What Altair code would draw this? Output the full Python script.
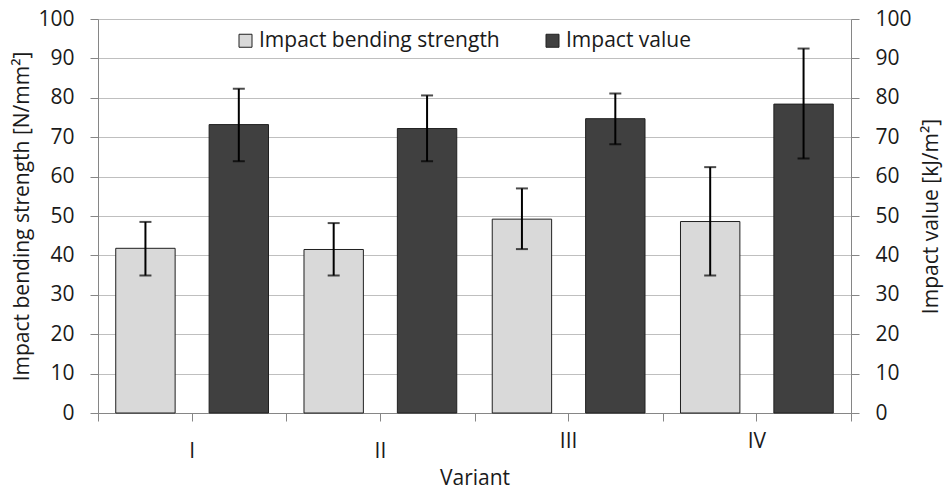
import altair as alt
import pandas as pd

variants = ["I", "II", "III", "IV"]
series = ["Impact bending strength", "Impact value"]
bending_mean = [41.8, 41.5, 49.2, 48.6]
bending_low = [34.9, 34.9, 41.6, 34.9]
bending_high = [48.5, 48.2, 57.0, 62.4]
impact_mean = [73.2, 72.2, 74.7, 78.4]
impact_low = [63.9, 63.9, 68.2, 64.6]
impact_high = [82.3, 80.6, 81.1, 92.5]
colors = ["#d9d9d9", "#404040"]

rows = []
for i, v in enumerate(variants):
    rows.append(dict(Variant=v, Series=series[0], value=bending_mean[i], lo=bending_low[i], hi=bending_high[i]))
    rows.append(dict(Variant=v, Series=series[1], value=impact_mean[i], lo=impact_low[i], hi=impact_high[i]))
df = pd.DataFrame(rows)

FONT = "Open Sans"
TXT = "#1a1a1a"
FS = 21

xscale = alt.Scale(domain=variants, paddingInner=0, paddingOuter=0)
x_axis_main = alt.Axis(orient="bottom", tickBand="extent", labels=False, ticks=True,
                       tickSize=8, tickColor="#868686", domainColor="#868686",
                       titleFont=FONT, titleFontSize=FS, titleFontWeight="normal",
                       titleColor=TXT, titlePadding=46)
x_main = alt.X("Variant:N", scale=xscale, title="Variant", axis=x_axis_main)
xoff = alt.XOffset("Series:N", scale=alt.Scale(domain=series, paddingInner=0.364, paddingOuter=0.19))
yscale = alt.Scale(domain=[0, 100])
left_title = "Impact bending strength [N/mm²]"
left_axis = alt.Axis(orient="left", values=list(range(0, 101, 10)), grid=True,
                     gridColor="#bfbfbf", gridWidth=1, domainColor="#868686",
                     tickColor="#868686", tickSize=8, labelPadding=16,
                     labelFont=FONT, labelFontSize=FS, labelColor=TXT,
                     titleFont=FONT, titleFontSize=FS, titleFontWeight="normal",
                     titleColor=TXT, titlePadding=5)

bars = alt.Chart(df).mark_bar(stroke="#202020", strokeWidth=1).encode(
    x=x_main, xOffset=xoff,
    y=alt.Y("value:Q", scale=yscale, title=left_title, axis=left_axis),
    color=alt.Color("Series:N", scale=alt.Scale(domain=series, range=colors),
                    legend=alt.Legend(title=None, orient="none", legendX=137, legendY=11,
                                      direction="horizontal", symbolType="square",
                                      symbolSize=169, symbolStrokeColor="#202020",
                                      symbolStrokeWidth=1, labelFont=FONT, labelLimit=0,
                                      labelFontSize=FS, labelColor=TXT, labelOffset=3,
                                      columnPadding=42)),
)
err = alt.Chart(df).mark_rule(color="black", strokeWidth=2).encode(
    x=x_main, xOffset=xoff,
    y=alt.Y("lo:Q", scale=yscale, title=left_title, axis=left_axis), y2="hi:Q")
cap_lo = alt.Chart(df).mark_tick(color="black", orient="horizontal", size=12, thickness=2).encode(
    x=x_main, xOffset=xoff, y=alt.Y("lo:Q", scale=yscale, title=left_title, axis=left_axis))
cap_hi = alt.Chart(df).mark_tick(color="black", orient="horizontal", size=12, thickness=2).encode(
    x=x_main, xOffset=xoff, y=alt.Y("hi:Q", scale=yscale, title=left_title, axis=left_axis))

left = alt.layer(bars, err, cap_lo, cap_hi)

right = alt.Chart(df).mark_bar(opacity=0).encode(
    x=alt.X("Variant:N", scale=xscale, title=None,
            axis=alt.Axis(orient="bottom", tickSize=8, tickColor="#868686", domain=False,
                          labelFont=FONT, labelFontSize=FS, labelColor=TXT,
                          labelPadding={"condition": {"test": "datum.value == 'III' || datum.value == 'IV'",
                                                      "value": 9}, "value": 19},
                          labelAngle=0)),
    y=alt.Y("value:Q", scale=yscale, title="Impact value [kJ/m²]",
            axis=alt.Axis(orient="right", values=list(range(0, 101, 10)), grid=False,
                          domainColor="#868686", tickColor="#868686", tickSize=8,
                          labelPadding=16, labelFont=FONT, labelFontSize=FS, labelColor=TXT,
                          titleFont=FONT, titleFontSize=FS, titleFontWeight="normal",
                          titleColor=TXT, titlePadding=30, titleAngle=270)),
)

chart = alt.layer(left, right).resolve_scale(y="independent").resolve_axis(
    x="independent", y="independent"
).properties(
    width=753, height=394,
    autosize=alt.AutoSizeParams(type="none"),
    padding={"left": 90, "top": 11, "right": 93, "bottom": 78},
).configure_view(stroke=None).configure(background="white")

chart.save("out.html", embed_options={"renderer": "svg", "actions": False})
